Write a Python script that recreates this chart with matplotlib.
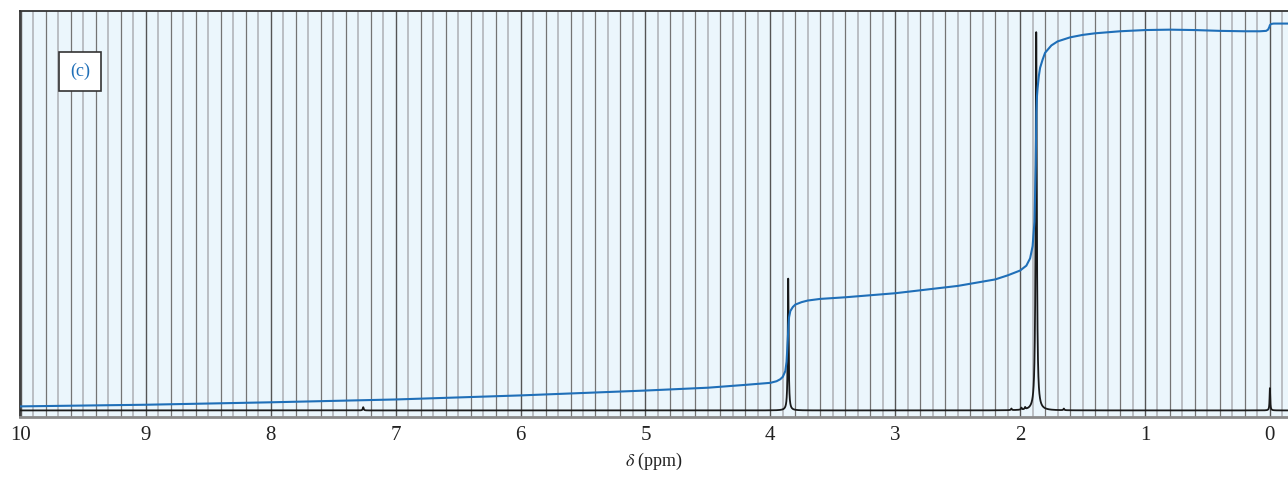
import numpy as np
import matplotlib
matplotlib.use("Agg")
import matplotlib.pyplot as plt

# ---- data ----
tick_ppm = [10, 9, 8, 7, 6, 5, 4, 3, 2, 1, 0]
tick_labels = ["10", "9", "8", "7", "6", "5", "4", "3", "2", "1", "0"]

# peaks: position (ppm), height (fraction of axis), half-width (ppm)
peak_pos = [7.26, 3.857, 2.07, 1.99, 1.96, 1.871, 1.65, 0.0]
peak_height = [0.008, 0.325, 0.004, 0.005, 0.005, 0.933, 0.004, 0.055]
peak_width = [0.004, 0.004, 0.004, 0.004, 0.004, 0.0055, 0.004, 0.003]
baseline_level = 0.015

# integral trace (ppm, level as fraction of axis height)
integral_ppm = [10.0, 9.0, 8.0, 7.0, 6.0, 5.0, 4.5, 4.2, 4.0, 3.95, 3.92, 3.90, 3.88,
                3.87, 3.86, 3.855, 3.85, 3.84, 3.82, 3.80, 3.75, 3.70, 3.6, 3.4,
                3.0, 2.5, 2.2, 2.1, 2.0, 1.95, 1.92, 1.90, 1.885, 1.875, 1.87,
                1.865, 1.86, 1.85, 1.84, 1.82, 1.80, 1.75, 1.70, 1.60, 1.50,
                1.40, 1.20, 1.00, 0.80, 0.60, 0.40, 0.20, 0.08, 0.03, 0.015,
                0.005, 0.0, -0.01, -0.03, -0.06, -0.145]
integral_level = [0.025, 0.029, 0.035, 0.042, 0.052, 0.064, 0.071, 0.078, 0.083,
                  0.087, 0.092, 0.098, 0.112, 0.135, 0.19, 0.225, 0.245, 0.26,
                  0.27, 0.276, 0.282, 0.286, 0.29, 0.294, 0.304, 0.322, 0.338,
                  0.348, 0.36, 0.372, 0.39, 0.42, 0.48, 0.62, 0.75, 0.79, 0.81,
                  0.84, 0.86, 0.88, 0.897, 0.915, 0.925, 0.935, 0.941, 0.945,
                  0.950, 0.953, 0.954, 0.953, 0.951, 0.950, 0.950, 0.951, 0.954,
                  0.96, 0.965, 0.968, 0.969, 0.969, 0.969]

panel_label = "(c)"
xlabel_text = r"$\delta$ (ppm)"

# ---- figure ----
plt.rcParams['font.family'] = ['Liberation Serif', 'DejaVu Serif']
plt.rcParams['mathtext.fontset'] = 'stix'

fig = plt.figure(figsize=(12.88, 4.79), dpi=100)
ax = fig.add_axes([20 / 1288, 62.5 / 479, 1268 / 1288, 405.5 / 479])
ax.set_facecolor("#ebf6fc")

xmin, xmax = 10.008, -0.145
ax.set_xlim(xmin, xmax)
ax.set_ylim(0, 1)

# grid lines every 0.1 ppm
for i in range(0, 102):
    p = 10 - i * 0.1
    if p < xmax:
        break
    if i % 10 == 0:
        c, lw = "#555555", 1.0
    elif i % 2 == 0:
        c, lw = "#747474", 0.9
    else:
        c, lw = "#b6babe", 1.3
    ax.axvline(p, color=c, lw=lw, zorder=1)

# spectrum
x = np.linspace(xmin, xmax, 60000)
y = np.full_like(x, baseline_level)
for p, h, w in zip(peak_pos, peak_height, peak_width):
    y += h * w ** 2 / ((x - p) ** 2 + w ** 2)
ax.plot(x, y, color="#1a1a1a", lw=1.3, zorder=3)

# integral
ax.plot(integral_ppm, integral_level, color="#1f6fb8", lw=1.5, zorder=4,
        solid_joinstyle="round")

# spines
for s in ["top", "left"]:
    ax.spines[s].set_color("#333333")
    ax.spines[s].set_linewidth(1.3)
ax.spines["right"].set_visible(False)
ax.spines["bottom"].set_color("#8a8a8a")
ax.spines["bottom"].set_linewidth(2.0)

ax.set_xticks(tick_ppm)
ax.set_xticklabels(tick_labels, fontsize=15, color="#222222")
ax.tick_params(axis="x", length=0, pad=7)
ax.set_yticks([])
ax.set_xlabel(xlabel_text, fontsize=13, color="#222222", labelpad=4)

ax.text(0.0475, 0.852, panel_label, transform=ax.transAxes, fontsize=13,
        color="#1f6fb8", ha="center", va="center", zorder=6,
        bbox=dict(boxstyle="square,pad=0.6", fc="white", ec="#333333", lw=1.2))

fig.savefig("out.png", dpi=100)
